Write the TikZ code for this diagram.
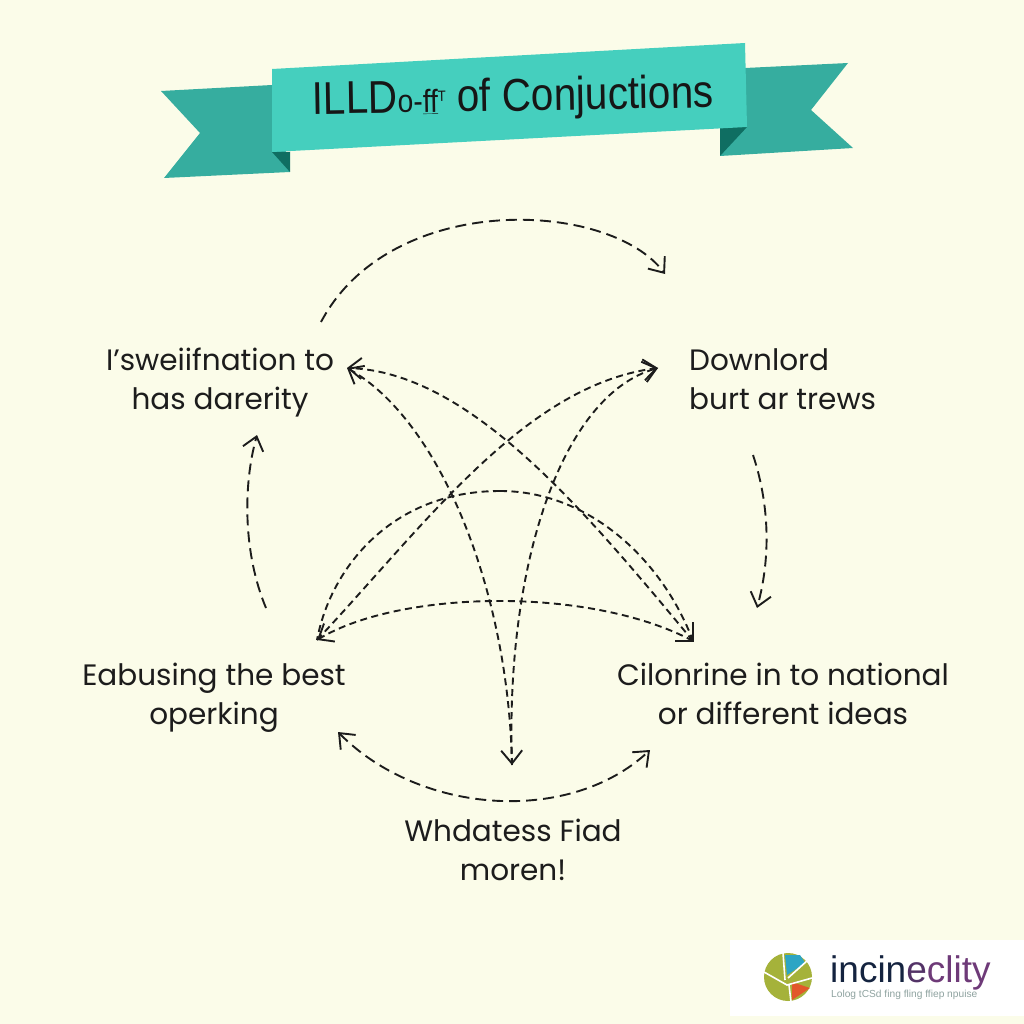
\documentclass[tikz,border=0pt]{standalone}
\usepackage{fontspec}
\setmainfont{Poppins}
\newfontfamily\titlefont[FakeStretch=0.88]{Liberation Sans}
\newfontfamily\logofont{Liberation Sans}
\usetikzlibrary{arrows.meta}
\definecolor{paper}{HTML}{FBFCE9}
\definecolor{ribbon}{HTML}{45CFBE}
\definecolor{ribbontail}{HTML}{36AD9F}
\definecolor{ribbonfold}{HTML}{0F6E62}
\definecolor{ink}{HTML}{1C1C1C}
\definecolor{logonavy}{HTML}{14233F}
\definecolor{logopurple}{HTML}{6E3A78}
\definecolor{logoolive}{HTML}{A5B23A}
\definecolor{logoblue}{HTML}{2DA5C4}
\definecolor{logoorange}{HTML}{E2582B}
\definecolor{logotag}{HTML}{8FA3A0}
\begin{document}
\begin{tikzpicture}[x=1pt,y=-1pt]
 \tikzset{
  label/.style={font=\fontsize{29.5}{39}\selectfont,text=ink,align=center,inner sep=0pt},
  barb/.tip={Straight Barb[length=13pt,width=21pt,line width=1.9pt]},
  outer/.style={draw=ink,line width=1.9pt,dash pattern=on 11pt off 6pt,-barb},
  inner/.style={draw=ink,line width=1.9pt,dash pattern=on 7pt off 4.5pt}
 }
 \fill[paper] (0,0) rectangle (1024,1024);
 \useasboundingbox (0,0) rectangle (1024,1024);
 % ribbon
 \fill[ribbontail] (161,91) -- (272,85) -- (290,172) -- (164,178) -- (200,133) -- cycle;
 \fill[ribbontail] (745,68) -- (848,63) -- (811,110) -- (853,148) -- (720,156) -- cycle;
 \fill[ribbonfold] (272,152) -- (290,152) -- (290,172) -- cycle;
 \fill[ribbonfold] (720,127) -- (747,127) -- (720,156) -- cycle;
 \fill[ribbon] (272,69) -- (745,43) -- (747,127) -- (272,152) -- cycle;
 \node[font=\titlefont\fontsize{46}{46}\selectfont,text=ink!80!black,rotate=1,inner sep=0pt]
  (title) at (513,99) {ILLD{\fontsize{32}{32}\selectfont o-\underline{ff}\raisebox{11pt}{\fontsize{15}{15}\selectfont T}} of Conjuctions};
 % labels
 \node[label] (swet) at (220,382.5) {I'sweiifnation to\\has darerity};
 \node[label,align=left,anchor=west] (down) at (689,379.5) {Downlord\\burt ar trews};
 \node[label] (eabu) at (214,698) {Eabusing the best\\operking};
 \node[label] (cilo) at (783,694) {Cilonrine in to national\\or different ideas};
 \node[label] (whda) at (513,850) {Whdatess Fiad\\moren!};
 % free ends and hubs
 \coordinate (hubTL) at (347,368);
 \coordinate (hubTR) at (658,368);
 \coordinate (hubBL) at (317,640);
 \coordinate (hubBR) at (693,641);
 \coordinate (wingBRa) at (693,622);
 \coordinate (wingBRb) at (675,641);
 \coordinate (hubB) at (512,765);
 \coordinate (archTop) at (500,491);
 \coordinate (topS) at (321,322);
 \coordinate (topE) at (665,274);
 \coordinate (rightS) at (753,455);
 \coordinate (rightE) at (757,608);
 \coordinate (leftS) at (266,608);
 \coordinate (leftE) at (257,435);
 \coordinate (botL) at (338,732);
 \coordinate (botR) at (650,750);
 % outer ring
 \draw[outer] (topS) .. controls +(70,-132) and +(-55,-74) .. (topE);
 \draw[outer] (rightS) .. controls +(15,45) and +(15,-55) .. (rightE);
 \draw[outer] (leftS) .. controls +(-23,-55) and +(-14,50) .. (leftE);
 \draw[outer,barb-barb] (botL) .. controls +(82,83) and +(-80,75) .. (botR);
 % inner star
 \draw[inner,barb-barb] (hubTL) .. controls +(93,52) and +(-4,-175) .. (hubB);
 \draw[inner,-barb] (hubB) .. controls +(-7,-195) and +(-98,27) .. (hubTR);
 \draw[inner,-barb] (hubBR) .. controls +(-108,-130) and +(123,4) .. (hubTL);
 \draw[inner,-barb] (hubBL) .. controls +(108,-115) and +(-133,17) .. (hubTR);
 \draw[inner] (archTop) .. controls +(90,0) and +(-30,-80) .. (hubBR);
 \draw[inner] (archTop) .. controls +(-110,0) and +(13,-70) .. (hubBL);
 \draw[inner,-barb] (hubBR) .. controls +(-103,-55) and +(83,-50) .. (hubBL);
 \draw[draw=ink,line width=1.9pt] (wingBRa) -- (hubBR) -- (wingBRb);
 % badge
 \fill[white] (730,940) rectangle (1024,1016);
 \fill[logoolive] (788,977) circle (24);
 \fill[logoblue] (785,955) -- (800,955) -- (805,963) -- (787,975) -- cycle;
 \fill[logoorange] (792,982) -- (810,988) -- (792,1000) -- cycle;
 \draw[white,line width=1.6pt] (764,972) -- (787,985) -- (812,978);
 \draw[white,line width=1.6pt] (789,985) -- (791,1002);
 \draw[white,line width=1.6pt] (783,953) -- (785,980);
 \draw[white,line width=1.6pt] (788,978) -- (808,960);
 \node[font=\logofont\fontsize{37}{37}\selectfont,text=logonavy,inner sep=0pt,anchor=west]
  (logo) at (830,973) {incin\textcolor{logopurple!70!logonavy}{e}\textcolor{logopurple}{clity}};
 \node[font=\logofont\fontsize{10.2}{11}\selectfont,text=logotag,inner sep=0pt,anchor=west]
  (logosub) at (831,995) {Lolog tCSd fing fling ffiep npuise};
\end{tikzpicture}
\end{document}
